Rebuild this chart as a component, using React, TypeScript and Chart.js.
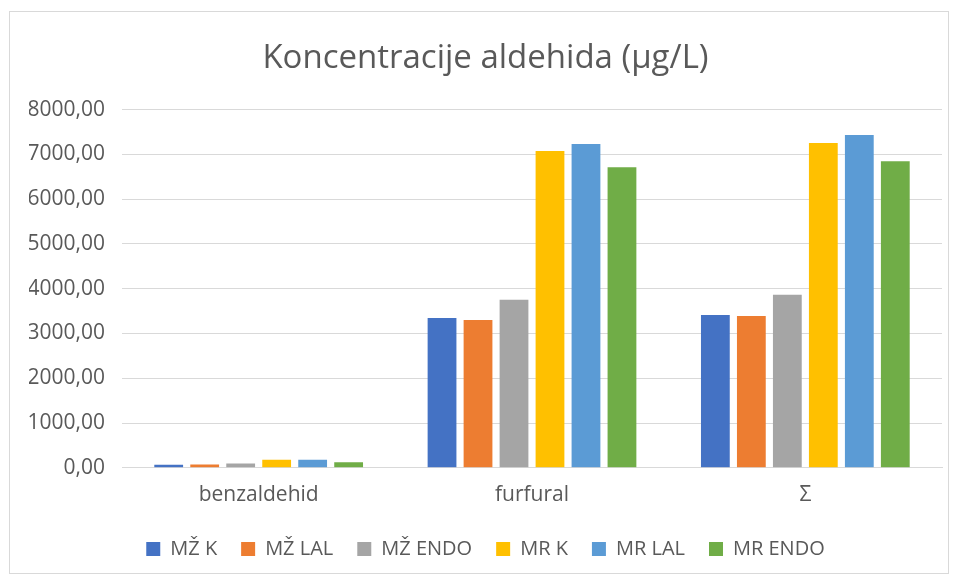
import React, { useEffect, useRef } from "react";
import { Chart, registerables } from "chart.js";

Chart.register(...registerables);

const categories = ["benzaldehid", "furfural", "Σ"];
const seriesNames = ["MŽ K", "MŽ LAL", "MŽ ENDO", "MR K", "MR LAL", "MR ENDO"];
const seriesColors = ["#4472C4", "#ED7D31", "#A5A5A5", "#FFC000", "#5B9BD5", "#70AD47"];
const mzK = [68, 3345, 3412];
const mzLAL = [75, 3300, 3390];
const mzENDO = [95, 3751, 3864];
const mrK = [180, 7073, 7254];
const mrLAL = [182, 7232, 7435];
const mrENDO = [125, 6712, 6847];
const seriesValues = [mzK, mzLAL, mzENDO, mrK, mrLAL, mrENDO];
const yMin = 0;
const yMax = 8000;
const yStep = 1000;
const title = "Koncentracije aldehida (µg/L)";

const FONT = "'Open Sans', sans-serif";
const TEXT = "#595959";

export default function App() {
  const ref = useRef<HTMLCanvasElement | null>(null);
  useEffect(() => {
    document.body.style.margin = "0";
    if (!ref.current) return;
    const chart = new Chart(ref.current, {
      type: "bar",
      data: {
        labels: categories,
        datasets: seriesNames.map((n, i) => ({
          label: n,
          data: seriesValues[i],
          backgroundColor: seriesColors[i],
          borderWidth: 0,
          categoryPercentage: 0.79,
          barPercentage: 0.8,
        })),
      },
      options: {
        animation: false,
        responsive: false,
        maintainAspectRatio: false,
        layout: { padding: { left: 19, right: 6, top: 27, bottom: 4 } },
        plugins: {
          title: {
            display: true,
            text: title,
            color: TEXT,
            font: { family: FONT, size: 33, weight: "normal" },
            padding: { top: 0, bottom: 31 },
          },
          legend: {
            position: "bottom",
            labels: {
              color: TEXT,
              font: { family: FONT, size: 20 },
              boxWidth: 14,
              boxHeight: 14,
              padding: 24,
            },
          },
          tooltip: { enabled: false },
        },
        scales: {
          x: {
            grid: { display: false },
            border: { color: "#d9d9d9", width: 1 },
            ticks: { color: TEXT, font: { family: FONT, size: 21 }, padding: 7 },
          },
          y: {
            min: yMin,
            max: yMax,
            afterFit: (scale: any) => {
              scale.width = 93;
            },
            ticks: {
              stepSize: yStep,
              color: TEXT,
              font: { family: FONT, size: 21 },
              padding: 17,
              callback: (v: any) => Number(v).toFixed(2).replace(".", ","),
            },
            grid: { color: "#d9d9d9", drawTicks: false },
            border: { display: false },
          },
        },
      },
    });
    return () => chart.destroy();
  }, []);
  return (
    <div style={{ position: "relative", width: 957, height: 582, background: "#fff" }}>
      <div
        style={{
          position: "absolute",
          left: 9,
          top: 11,
          width: 940,
          height: 563,
          border: "1px solid #d9d9d9",
          boxSizing: "border-box",
        }}
      >
        <canvas ref={ref} width={938} height={561} style={{ display: "block" }} />
      </div>
    </div>
  );
}
